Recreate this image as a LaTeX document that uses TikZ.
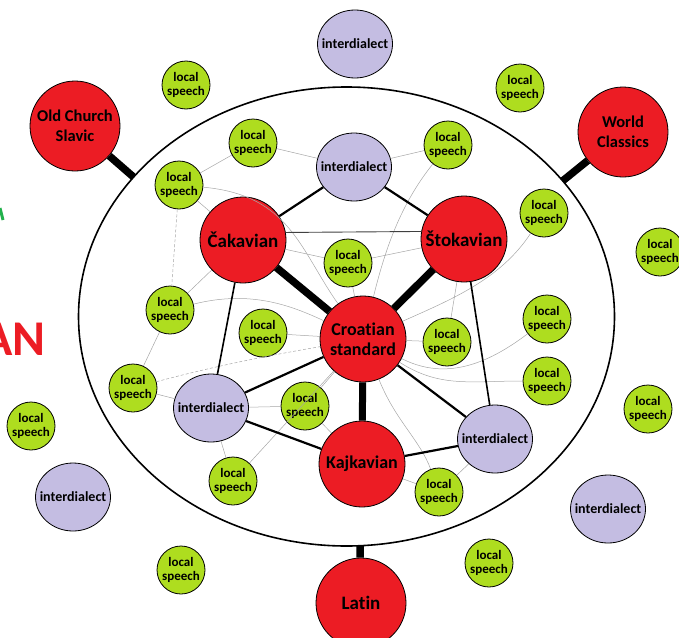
\documentclass[tikz,border=0pt]{standalone}
\usepackage{fontspec}
\setmainfont{Carlito}[Ligatures=NoCommon]
\usetikzlibrary{shapes.geometric}
\definecolor{cred}{HTML}{EC1C24}
\definecolor{cgreen}{HTML}{AEDD1F}
\definecolor{clav}{HTML}{C4BDE2}
\definecolor{cmark}{HTML}{22B14C}
\newcommand\idtxt{\makebox[0pt]{interdialect}}
\begin{document}
\begin{tikzpicture}[x=1pt,y=-1pt,
  ls/.style={circle, draw=black, line width=0.8pt, fill=cgreen, minimum size=48pt, inner sep=0pt, align=center, font=\bfseries\fontsize{13}{14.5}\selectfont},
  idl/.style={ellipse, draw=black, line width=0.8pt, fill=clav, minimum width=75pt, minimum height=68pt, inner sep=0pt, font=\bfseries\fontsize{14}{15}\selectfont},
  rd/.style={circle, draw=black, line width=0.8pt, fill=cred, minimum size=86pt, inner sep=0pt, align=center, font=\bfseries\fontsize{18}{20}\selectfont},
  outrd/.style={rd, minimum size=90pt, font=\bfseries\fontsize{16.5}{20}\selectfont},
  bar/.style={line width=7.5pt},
  med/.style={line width=2.2pt},
  fine/.style={gray!70, line width=0.5pt}]
\useasboundingbox (0,0) rectangle (679,637);
% left fragments
\node[anchor=base east, text=cred, font=\bfseries\fontsize{50}{50}\selectfont, inner sep=0pt] (an) at (46,355) {AN};
\draw[cmark, line width=3pt] (0,208) -- (3,220);
% big ellipse
\draw[line width=1.6pt] (346.5,316.5) ellipse [x radius=268, y radius=229.5];
\coordinate (e1) at (133.5,177);
\coordinate (e2) at (562.5,181);
\coordinate (e3) at (360,546);
% outer nodes
\node[idl] (oT) at (355,44) {\idtxt};
\node[ls] (oTL) at (186,85) {local\\speech};
\node[ls] (oTR) at (520,88) {local\\speech};
\node[outrd] (ocs) at (75,126) {Old Church\\Slavic};
\node[outrd] (wc) at (623,132) {World\\Classics};
\node[ls] (oR1) at (660,252) {local\\speech};
\node[ls] (oR2) at (648,409) {local\\speech};
\node[idl] (oR) at (608,509) {\idtxt};
\node[ls] (oL1) at (31,426) {local\\speech};
\node[idl] (oL) at (73,497) {\idtxt};
\node[ls] (oBL) at (181,570) {local\\speech};
\node[ls] (oBR) at (489,563) {local\\speech};
\node[outrd, font=\bfseries\fontsize{19}{20}\selectfont] (lat) at (361,603) {Latin};
% inner nodes
\node[idl] (it) at (354,167) {\idtxt};
\node[ls] (l1) at (253,143) {local\\speech};
\node[ls] (l2) at (448,145) {local\\speech};
\node[ls] (l3) at (179,185) {local\\speech};
\node[rd, font=\bfseries\fontsize{19}{20}\selectfont] (cak) at (243,240) {Čakavian};
\node[rd, font=\bfseries\fontsize{19}{20}\selectfont] (sto) at (464,239) {Štokavian};
\node[ls] (l4) at (544,213) {local\\speech};
\node[ls] (l5) at (348,263) {local\\speech};
\node[ls] (l6) at (170,310) {local\\speech};
\node[ls] (l7) at (263,333) {local\\speech};
\node[rd] (cro) at (363,339) {Croatian\\standard};
\node[ls] (l8) at (447,342) {local\\speech};
\node[ls] (l9) at (547,319) {local\\speech};
\node[ls] (l10) at (547,381) {local\\speech};
\node[ls] (l11) at (133,388) {local\\speech};
\node[idl] (il) at (211,408) {\idtxt};
\node[ls] (l12) at (305,406) {local\\speech};
\node[idl] (ir) at (495,439) {\idtxt};
\node[rd] (kaj) at (362,464) {Kajkavian};
\node[ls] (l13) at (233,481) {local\\speech};
\node[ls] (l14) at (439,492) {local\\speech};
% fine grey connectors
\draw[fine] (l1) -- (it);
\draw[fine] (l2) -- (it);
\draw[fine] (l3) -- (l1);
\draw[fine] (l3) -- (cak);
\draw[fine] (l3) .. controls (290,195) and (300,250) .. (cro);
\draw[fine, densely dashed] (l3) -- (l6);
\draw[fine] (cak) -- (l6);
\draw[fine] (cak) -- (l5);
\draw[fine] (sto) -- (l5);
\draw[fine] (l5) -- (cro);
\draw[fine] (l2) .. controls (400,205) and (385,250) .. (cro);
\draw[fine] (l4) .. controls (500,280) and (450,300) .. (cro);
\draw[fine] (sto) -- (l8);
\draw[fine] (cro) -- (l8);
\draw[fine] (cro) .. controls (440,378) and (480,370) .. (l9);
\draw[fine] (cro) .. controls (440,388) and (470,381) .. (l10);
\draw[fine] (l6) .. controls (250,290) and (290,305) .. (cro);
\draw[fine] (l7) -- (cro);
\draw[fine, densely dashed] (l11) .. controls (230,362) and (290,352) .. (cro);
\draw[fine] (l6) -- (l11);
\draw[fine] (l11) -- (il);
\draw[fine] (il) -- (l12);
\draw[fine] (il) -- (cro);
\draw[fine] (l12) -- (cro);
\draw[fine] (l12) -- (kaj);
\draw[fine] (l13) -- (il);
\draw[fine] (l13) -- (cro);
\draw[fine] (kaj) -- (l14);
\draw[fine] (l14) -- (ir);
\draw[fine] (cro) .. controls (395,420) and (420,440) .. (l14);
% dark thin line
\draw[black!75, line width=0.9pt] (cak.10) -- (sto.170);
% medium connectors
\draw[med] (it) -- (cak);
\draw[med] (it) -- (sto);
\draw[line width=1.6pt] (cak) -- (il);
\draw[line width=1.6pt] (sto) -- (ir);
\draw[med] (cro) -- (il);
\draw[med] (il) -- (kaj);
\draw[med] (cro) -- (ir);
\draw[med] (kaj) -- (ir);
% thick connectors
\draw[bar] (cak) -- (cro);
\draw[bar] (sto) -- (cro);
\draw[bar, line width=7pt] (cro) -- (kaj);
\draw[bar] (ocs) -- (e1);
\draw[bar] (wc) -- (e2);
\draw[bar] (e3) -- (lat);
\end{tikzpicture}
\end{document}
